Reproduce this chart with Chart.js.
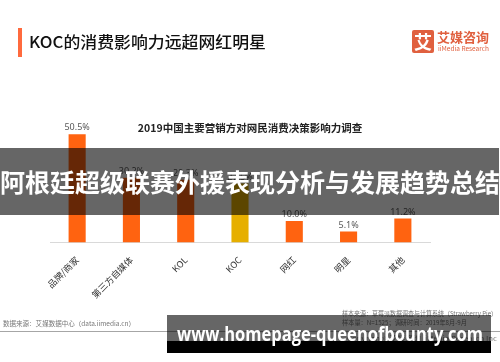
<!DOCTYPE html>
<html lang="zh">
<head>
    <meta charset="UTF-8">
    <title>KOC的消费影响力远超网红明星</title>
    <script src="https://cdn.jsdelivr.net/npm/chart.js"></script>
    <style>
        body { margin: 0; width: 500px; height: 362px; background: #fff; position: relative; overflow: hidden;
               font-family: "Noto Sans CJK SC", "Noto Sans", sans-serif; }
        .abs { position: absolute; white-space: nowrap; transform-origin: 0 0; }
        #chart { position: absolute; left: 0; top: 0; }
        .bar-mark { left: 18px; top: 28px; width: 4px; height: 29px; background: #ff6a3d; }
        .title { left: 29px; top: 31px; font-size: 16px; font-weight: 500; color: #111; line-height: 21px; }
        .logo-box { left: 412px; top: 30px; width: 22px; height: 23px; background: #e0603f; border-radius: 2px;
                    color: #fff; font-size: 18px; font-weight: bold; text-align: center; line-height: 23px; }
        .logo-cn { left: 437px; top: 29px; font-size: 13px; font-weight: bold; color: #e0603f; line-height: 16px; }
        .logo-en { left: 438px; top: 45px; font-size: 6.5px; color: #e0603f; line-height: 7px; }
        .subtitle { left: 0; width: 500px; top: 121px; text-align: center; font-size: 10.5px; font-weight: bold; color: #222; line-height: 14px; }
        .foot { font-size: 6.5px; color: #777; line-height: 8px; }
        .rule { left: 0; top: 331px; width: 500px; height: 1px; background: #a6a6a6; }
        .band { left: 0; top: 148px; width: 499px; height: 67px; background: rgba(0,0,0,0.6);
                color: #fff; font-size: 25px; font-weight: bold; text-align: center; line-height: 67px; z-index: 5; }
        .wm-top { left: 167px; top: 315px; width: 324px; height: 26px; background: rgba(0,0,0,0.6); z-index: 5; }
        .wm-bot { left: 167px; top: 341px; width: 324px; height: 12px; background: #000; z-index: 5; }
        #wm { left: 177px; top: 322px; font-family: "Open Sans", "Noto Sans", sans-serif; font-weight: bold;
              font-size: 20px; line-height: 24px; color: #fff; z-index: 6; }
    </style>
</head>
<body>
    <canvas id="chart" width="500" height="362"></canvas>

    <div class="abs bar-mark"></div>
    <div class="abs title fit" data-w="237">KOC的消费影响力远超网红明星</div>
    <div class="abs logo-box">艾</div>
    <div class="abs logo-cn">艾媒咨询</div>
    <div class="abs logo-en">iiMedia Research</div>
    <div class="abs subtitle">2019中国主要营销方对网民消费决策影响力调查</div>

    <div class="abs foot fit" data-w="132" style="left:3px; top:319px;">数据来源：艾媒数据中心（data.iimedia.cn）</div>
    <div class="abs foot fit" data-w="155" style="left:342px; top:309px;">样本来源：草莓派数据调查与计算系统（Strawberry Pie）</div>
    <div class="abs foot fit" data-w="125" style="left:342px; top:318px;">样本量：N=1525；调研时间：2019年8月-9月</div>
    <div class="abs foot fit" data-w="150" style="left:347px; top:334px;">Copyright©艾媒咨询 iiMedia Research Inc</div>
    <div class="abs rule"></div>

    <div class="abs band">阿根廷超级联赛外援表现分析与发展趋势总结</div>
    <div class="abs wm-top"></div>
    <div class="abs wm-bot"></div>
    <div class="abs fit" id="wm" data-w="306">www.homepage-queenofbounty.com</div>

    <script>
        // data
        const categories = ['品牌/商家', '第三方自媒体', 'KOL', 'KOC', '网红', '明星', '其他'];
        const influence = [50.5, 30.2, 29.3, 27.5, 10.0, 5.1, 11.2];
        const barColors = ['#ff6310', '#ff6310', '#ff6310', '#e6af00', '#ff6310', '#ff6310', '#ff6310'];

        // value labels above each bar
        const valueLabels = {
            id: 'valueLabels',
            afterDatasetsDraw(chart) {
                const ctx = chart.ctx;
                const meta = chart.getDatasetMeta(0);
                ctx.save();
                ctx.font = '9px "Noto Sans", "DejaVu Sans", sans-serif';
                ctx.fillStyle = '#595959';
                ctx.textAlign = 'center';
                ctx.textBaseline = 'bottom';
                meta.data.forEach((bar, i) => {
                    ctx.fillText(influence[i].toFixed(1) + '%', bar.x, bar.y - 2);
                });
                ctx.restore();
            }
        };

        new Chart(document.getElementById('chart').getContext('2d'), {
            type: 'bar',
            data: {
                labels: categories,
                datasets: [{
                    data: influence,
                    backgroundColor: barColors,
                    borderWidth: 0,
                    categoryPercentage: 1,
                    barPercentage: 0.315
                }]
            },
            options: {
                responsive: false,
                animation: false,
                layout: { padding: { top: 114, left: 50, right: 70, bottom: 0 } },
                plugins: { legend: { display: false }, tooltip: { enabled: false } },
                scales: {
                    x: {
                        grid: { display: false },
                        border: { display: true, color: '#d9d9d9' },
                        ticks: {
                            color: '#333',
                            font: { size: 9, family: '"Noto Sans CJK SC", sans-serif' },
                            minRotation: 45,
                            maxRotation: 45,
                            padding: 4
                        },
                        afterFit: function(scale) { scale.height = 119.5; }
                    },
                    y: { display: false, min: 0, max: 60 }
                }
            },
            plugins: [valueLabels]
        });

        // squeeze texts to their widths in the picture
        document.querySelectorAll('.fit').forEach(el => {
            const w = el.getBoundingClientRect().width;
            el.style.transform = 'scaleX(' + (el.dataset.w / w) + ')';
        });
    </script>
</body>
</html>
